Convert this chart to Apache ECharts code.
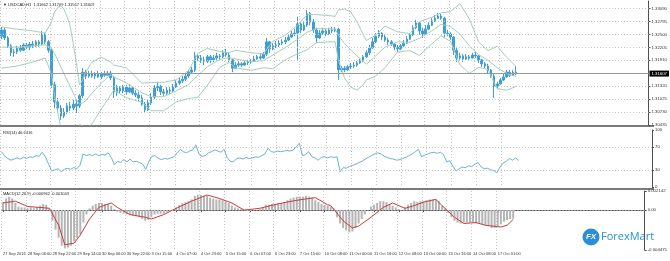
<!DOCTYPE html>
<html><head><meta charset="utf-8">
<script src="https://cdn.jsdelivr.net/npm/echarts@6/dist/echarts.min.js"></script>
<style>html,body{margin:0;padding:0;background:#fff}#c{width:670px;height:261px}</style>
</head><body><div id="c"></div>
<script>
// ---------- tick labels ----------
const xTickLabels = ["27 Sep 2016","28 Sep 06:00","28 Sep 22:00","29 Sep 14:00","30 Sep 06:00","30 Sep 22:00","3 Oct 15:00","4 Oct 07:00","4 Oct 23:00","5 Oct 15:00","6 Oct 07:00","6 Oct 23:00","7 Oct 15:00","10 Oct 08:00","11 Oct 00:00","11 Oct 16:00","12 Oct 08:00","13 Oct 00:00","13 Oct 16:00","14 Oct 08:00","17 Oct 01:00"];
const priceLabels = [1.30435,1.30730,1.31025,1.31320,1.31910,1.32205,1.32500,1.32795,1.33090];
const priceGrid = [1.30730,1.31025,1.31320,1.31615,1.31910,1.32205,1.32500,1.32795,1.33090];
const rsiLabels = [0,30,70,100];
const rsiGrid = [30,70];
const macdLabels = [-0.004475,0,0.002142];

// ---------- candles (2-hour slots) ----------
const open = [1.3246,1.3260,1.3242,1.3224,1.3208,1.3210,1.3219,1.3214,1.3226,1.3221,
1.3228,1.3224,1.3233,1.3228,1.3251,1.3233,1.3214,1.3135,1.3096,1.3082,
1.3064,1.3073,1.3087,1.3082,1.3091,1.3087,1.3110,1.3164,1.3155,1.3160,
1.3155,1.3160,1.3153,1.3160,1.3157,1.3162,1.3151,1.3119,1.3128,1.3121,
1.3130,1.3119,1.3128,1.3116,1.3112,1.3105,1.3091,1.3078,1.3094,1.3107,
1.3128,1.3132,1.3119,1.3116,1.3123,1.3121,1.3130,1.3139,1.3144,1.3148,
1.3155,1.3164,1.3169,1.3201,1.3196,1.3192,1.3189,1.3199,1.3192,1.3196,
1.3201,1.3199,1.3208,1.3203,1.3192,1.3173,1.3180,1.3183,1.3180,1.3185,
1.3187,1.3189,1.3194,1.3199,1.3196,1.3205,1.3233,1.3217,1.3224,1.3226,
1.3230,1.3233,1.3237,1.3244,1.3251,1.3253,1.3274,1.3260,1.3271,1.3297,
1.3278,1.3260,1.3242,1.3253,1.3258,1.3251,1.3260,1.3258,1.3262,1.3169,
1.3173,1.3169,1.3176,1.3178,1.3180,1.3185,1.3189,1.3199,1.3208,1.3219,
1.3233,1.3246,1.3253,1.3244,1.3237,1.3233,1.3228,1.3221,1.3217,1.3224,
1.3230,1.3239,1.3249,1.3265,1.3276,1.3258,1.3251,1.3262,1.3271,1.3281,
1.3287,1.3292,1.3287,1.3253,1.3251,1.3244,1.3214,1.3196,1.3201,1.3194,
1.3199,1.3196,1.3203,1.3201,1.3192,1.3183,1.3178,1.3169,1.3155,1.3132,
1.3137,1.3146,1.3153,1.3164,1.3157,1.3164];
const close = [1.3260,1.3242,1.3224,1.3208,1.3210,1.3219,1.3214,1.3226,1.3221,1.3228,
1.3224,1.3233,1.3228,1.3251,1.3233,1.3214,1.3135,1.3096,1.3082,1.3064,
1.3073,1.3087,1.3082,1.3091,1.3087,1.3110,1.3164,1.3155,1.3160,1.3155,
1.3160,1.3153,1.3160,1.3157,1.3162,1.3151,1.3119,1.3128,1.3121,1.3130,
1.3119,1.3128,1.3116,1.3112,1.3105,1.3091,1.3078,1.3094,1.3107,1.3128,
1.3132,1.3119,1.3116,1.3123,1.3121,1.3130,1.3139,1.3144,1.3148,1.3155,
1.3164,1.3169,1.3201,1.3196,1.3192,1.3189,1.3199,1.3192,1.3196,1.3201,
1.3199,1.3208,1.3203,1.3192,1.3173,1.3180,1.3183,1.3180,1.3185,1.3187,
1.3189,1.3194,1.3199,1.3196,1.3205,1.3233,1.3217,1.3224,1.3226,1.3230,
1.3233,1.3237,1.3244,1.3251,1.3253,1.3274,1.3260,1.3271,1.3297,1.3278,
1.3260,1.3242,1.3253,1.3258,1.3251,1.3260,1.3258,1.3262,1.3169,1.3173,
1.3169,1.3176,1.3178,1.3180,1.3185,1.3189,1.3199,1.3208,1.3219,1.3233,
1.3246,1.3253,1.3244,1.3237,1.3233,1.3228,1.3221,1.3217,1.3224,1.3230,
1.3239,1.3249,1.3265,1.3276,1.3258,1.3251,1.3262,1.3271,1.3281,1.3287,
1.3292,1.3287,1.3253,1.3251,1.3244,1.3214,1.3196,1.3201,1.3194,1.3199,
1.3196,1.3203,1.3201,1.3192,1.3183,1.3178,1.3169,1.3155,1.3132,1.3137,
1.3146,1.3153,1.3164,1.3157,1.3164,1.31607];
const low = [1.3239,1.3237,1.3219,1.3201,1.3199,1.3205,1.3210,1.3212,1.3217,1.3214,
1.3219,1.3221,1.3221,1.3226,1.3228,1.3208,1.3128,1.3082,1.3073,1.3055,
1.3059,1.3069,1.3075,1.3078,1.3071,1.3082,1.3105,1.3148,1.3151,1.3151,
1.3148,1.3151,1.3148,1.3153,1.3155,1.3146,1.3105,1.3110,1.3116,1.3116,
1.3112,1.3116,1.3112,1.3107,1.3098,1.3087,1.3071,1.3075,1.3089,1.3103,
1.3121,1.3112,1.3110,1.3112,1.3114,1.3119,1.3128,1.3135,1.3139,1.3144,
1.3151,1.3160,1.3164,1.3189,1.3185,1.3180,1.3185,1.3185,1.3187,1.3192,
1.3192,1.3196,1.3199,1.3187,1.3164,1.3171,1.3176,1.3176,1.3178,1.3180,
1.3183,1.3187,1.3192,1.3192,1.3194,1.3201,1.3208,1.3214,1.3219,1.3221,
1.3226,1.3228,1.3235,1.3242,1.3246,1.3192,1.3253,1.3258,1.3267,1.3271,
1.3253,1.3230,1.3239,1.3249,1.3246,1.3249,1.3253,1.3255,1.3146,1.3164,
1.3164,1.3167,1.3171,1.3173,1.3176,1.3183,1.3187,1.3196,1.3203,1.3217,
1.3230,1.3242,1.3237,1.3233,1.3226,1.3224,1.3214,1.3210,1.3214,1.3221,
1.3228,1.3237,1.3246,1.3262,1.3249,1.3242,1.3249,1.3260,1.3269,1.3278,
1.3285,1.3283,1.3242,1.3246,1.3237,1.3203,1.3187,1.3192,1.3187,1.3192,
1.3192,1.3196,1.3196,1.3185,1.3176,1.3173,1.3162,1.3151,1.3105,1.3126,
1.3135,1.3144,1.3151,1.3153,1.3155,1.3157];
const high = [1.3267,1.3265,1.3246,1.3228,1.3217,1.3224,1.3226,1.3230,1.3230,1.3233,
1.3235,1.3237,1.3237,1.3258,1.3253,1.3237,1.3219,1.3142,1.3105,1.3089,
1.3082,1.3094,1.3096,1.3101,1.3101,1.3114,1.3173,1.3169,1.3167,1.3167,
1.3164,1.3167,1.3164,1.3167,1.3167,1.3167,1.3155,1.3135,1.3132,1.3135,
1.3135,1.3137,1.3132,1.3123,1.3119,1.3112,1.3096,1.3101,1.3116,1.3135,
1.3142,1.3135,1.3126,1.3130,1.3130,1.3137,1.3146,1.3151,1.3155,1.3162,
1.3169,1.3176,1.3210,1.3205,1.3203,1.3199,1.3203,1.3203,1.3203,1.3208,
1.3205,1.3214,1.3217,1.3210,1.3194,1.3187,1.3189,1.3187,1.3189,1.3192,
1.3194,1.3201,1.3203,1.3205,1.3210,1.3242,1.3235,1.3230,1.3235,1.3237,
1.3239,1.3244,1.3251,1.3258,1.3262,1.3290,1.3278,1.3278,1.3306,1.3301,
1.3285,1.3265,1.3260,1.3265,1.3262,1.3265,1.3267,1.3267,1.3265,1.3178,
1.3178,1.3180,1.3185,1.3187,1.3189,1.3194,1.3203,1.3214,1.3226,1.3242,
1.3253,1.3260,1.3255,1.3249,1.3242,1.3237,1.3230,1.3226,1.3228,1.3237,
1.3246,1.3253,1.3271,1.3283,1.3278,1.3265,1.3271,1.3278,1.3287,1.3294,
1.3299,1.3297,1.3290,1.3260,1.3255,1.3246,1.3219,1.3208,1.3205,1.3205,
1.3203,1.3208,1.3210,1.3203,1.3194,1.3187,1.3183,1.3171,1.3160,1.3142,
1.3151,1.3160,1.3169,1.3169,1.3169,1.3178];
const lastBid = 1.31607;

// ---------- Bollinger bands, [slot, value] ----------
const bbUpper = [[0,1.3267],[5,1.3262],[10,1.3258],[14,1.3253],[16,1.3278],[17,1.3301],[18,1.3311],[19,1.3315],[20,1.3308],[21,1.3291],[22,1.3269],[23,1.3229],[24,1.3185],[25,1.3135],[26,1.3146],[27,1.3164],[29,1.3187],[32,1.3198],[35,1.3187],[36,1.3180],[40,1.3174],[45,1.3139],[48,1.3140],[52,1.3141],[56,1.3146],[60,1.3168],[63,1.3207],[66,1.3218],[70,1.3211],[73,1.3208],[75,1.3214],[80,1.3208],[84,1.3206],[87,1.3234],[91,1.3248],[95,1.3271],[98,1.3295],[101,1.3295],[105,1.3293],[107,1.3291],[108,1.3305],[110,1.3308],[112,1.3301],[114,1.3279],[116,1.3250],[117,1.3236],[120,1.3248],[123,1.3269],[127,1.3256],[131,1.3252],[134,1.3279],[138,1.3289],[141,1.3299],[144,1.3302],[147,1.3320],[150,1.3286],[153,1.3233],[156,1.3213],[159,1.3223],[162,1.3198],[165,1.3177]];
const bbMiddle = [[0,1.3221],[5,1.3221],[10,1.3224],[14,1.3226],[16,1.3219],[17,1.3206],[18,1.3192],[19,1.3176],[20,1.3161],[21,1.3146],[22,1.3132],[23,1.3116],[24,1.3101],[25,1.3091],[26,1.3094],[27,1.3099],[29,1.3116],[32,1.3139],[35,1.3158],[36,1.3153],[40,1.3140],[45,1.3117],[48,1.3108],[52,1.3108],[56,1.3121],[60,1.3136],[63,1.3157],[66,1.3176],[70,1.3193],[73,1.3197],[75,1.3194],[80,1.3188],[84,1.3190],[87,1.3203],[91,1.3220],[95,1.3239],[98,1.3255],[101,1.3263],[105,1.3263],[107,1.3262],[108,1.3249],[110,1.3229],[112,1.3215],[114,1.3201],[116,1.3188],[117,1.3182],[120,1.3201],[123,1.3221],[127,1.3233],[131,1.3232],[134,1.3241],[138,1.3258],[141,1.3273],[144,1.3268],[147,1.3251],[150,1.3224],[153,1.3204],[156,1.3191],[159,1.3174],[162,1.3161],[165,1.3154]];
const bbLower = [[0,1.3173],[5,1.3178],[10,1.3187],[14,1.3196],[16,1.3160],[17,1.3112],[18,1.3073],[19,1.3037],[20,1.3014],[21,1.3002],[22,1.2994],[23,1.3002],[24,1.3018],[25,1.3045],[26,1.3041],[27,1.3034],[29,1.3046],[32,1.3080],[35,1.3112],[36,1.3123],[40,1.3106],[45,1.3095],[48,1.3076],[52,1.3076],[56,1.3096],[60,1.3104],[63,1.3107],[66,1.3134],[70,1.3175],[73,1.3186],[75,1.3174],[80,1.3168],[84,1.3174],[87,1.3172],[91,1.3192],[95,1.3206],[98,1.3215],[101,1.3231],[105,1.3233],[107,1.3233],[108,1.3193],[110,1.3151],[112,1.3130],[114,1.3123],[116,1.3135],[117,1.3146],[120,1.3155],[123,1.3174],[127,1.3210],[131,1.3213],[134,1.3202],[138,1.3228],[141,1.3247],[144,1.3234],[147,1.3181],[150,1.3161],[153,1.3175],[156,1.3170],[159,1.3126],[162,1.3123],[165,1.3131]];

// ---------- RSI(14) ----------
const rsi = [62,54,50,47,49,51,49,52,50,53,52,55,54,61,53,40,28,30,32,27,
31,33,31,34,32,38,58,55,57,55,58,55,57,56,60,52,39,45,43,48,
44,49,44,45,43,40,31,45,54,55,50,48,50,49,51,53,60,66,62,60,
63,65,74,57,54,55,60,62,65,63,61,66,51,45,44,50,51,49,52,50,
51,53,52,55,58,68,62,61,63,62,63,64,63,65,70,77,55,57,62,53,
51,47,52,53,51,53,52,53,27,34,33,36,38,40,43,45,49,52,55,58,
60,58,54,52,50,49,47,48,50,52,55,58,62,66,53,56,58,60,61,59,
61,57,44,46,36,28,32,35,34,37,36,40,43,35,32,33,30,29,25,35,
42,45,50,47,51,46.64];

// ---------- MACD(12,26,9) ----------
const macdMain = [0.0009,0.0013,0.0015,0.0013,0.0008,0.0004,0.0003,0.0003,0.0002,0.0003,
0.0002,0.0003,0.0005,0.0007,0.0006,0.0001,-0.0012,-0.0022,-0.0031,-0.0040,
-0.0043,-0.0042,-0.0040,-0.0035,-0.0031,-0.0027,-0.0014,-0.0005,0.0002,0.0005,
0.0007,0.0008,0.0008,0.0007,0.0007,0.0005,0.0001,-0.0002,-0.0003,-0.0004,
-0.0005,-0.0005,-0.0006,-0.0007,-0.0008,-0.0010,-0.0012,-0.0011,-0.0008,-0.0005,
-0.0004,-0.0004,-0.0004,-0.0002,-0.0001,0.0000,0.0003,0.0006,0.0008,0.0009,
0.0010,0.0012,0.0016,0.0017,0.0017,0.0016,0.0016,0.0014,0.0013,0.0012,
0.0012,0.0011,0.0010,0.0008,0.0005,0.0003,0.0002,0.0001,0.0000,-0.0001,
-0.0001,0.0000,0.0000,0.0001,0.0003,0.0006,0.0006,0.0007,0.0007,0.0008,
0.0008,0.0009,0.0011,0.0013,0.0014,0.0015,0.0015,0.0015,0.0016,0.0015,
0.0014,0.0011,0.0009,0.0007,0.0006,0.0005,0.0004,0.0002,-0.0008,-0.0015,
-0.0020,-0.0023,-0.0025,-0.0024,-0.0020,-0.0015,-0.0010,-0.0005,0.0000,0.0004,
0.0006,0.0008,0.0010,0.0010,0.0009,0.0007,0.0005,0.0003,0.0001,0.0000,
0.0003,0.0006,0.0008,0.0010,0.0009,0.0010,0.0010,0.0011,0.0012,0.0012,
0.0012,0.0010,0.0005,0.0002,-0.0003,-0.0008,-0.0012,-0.0014,-0.0015,-0.0014,
-0.0014,-0.0014,-0.0014,-0.0015,-0.0015,-0.0016,-0.0017,-0.0018,-0.0020,-0.0020,
-0.0018,-0.0016,-0.0013,-0.0011,-0.0010,-0.000962];
const macdSignal = [[0,0.0008],[4,0.0010],[8,0.0004],[12,0.0003],[15,0.0002],[18,-0.0017],[20,-0.0039],[23,-0.0037],[25,-0.0028],[28,-0.0010],[31,0.0003],[35,0.0008],[37,0.0003],[41,-0.0005],[46,-0.0008],[48,-0.0010],[52,-0.0005],[56,0.0002],[61,0.0010],[66,0.0017],[70,0.0013],[74,0.0008],[78,0.0000],[83,0.0002],[89,0.0007],[95,0.0011],[101,0.0014],[105,0.0006],[106,0.0005],[110,-0.0012],[113,-0.0020],[115,-0.0018],[119,-0.0008],[123,0.0003],[126,0.0008],[130,0.0002],[133,0.0005],[136,0.0009],[140,0.0012],[142,0.0005],[146,-0.0008],[149,-0.0015],[153,-0.0014],[156,-0.0017],[161,-0.0019],[163,-0.0017],[165,-0.001043]];

// ---------- build ----------
const N_SLOTS = 208, SLOTS_PER_LABEL = 8;
const cats = Array.from({length: N_SLOTS}, (_, i) => String(i));
const candles = open.map((o, i) => [o, close[i], low[i], high[i]]);
const isLabelIdx = (i) => i % SLOTS_PER_LABEL === 0 && i / SLOTS_PER_LABEL < xTickLabels.length;

const gridLine = {color: '#c6c6c6', type: [1, 2], width: 1};
const FONT = 'Liberation Sans, Arial, sans-serif';

function xAxis(gi) {
  const bottom = gi === 2;
  return {
    type: 'category', gridIndex: gi, data: cats, boundaryGap: true,
    axisLine: {show: bottom, lineStyle: {color: '#505050', width: 1}},
    axisTick: {show: bottom, alignWithLabel: true, interval: (i) => isLabelIdx(i), length: 2, lineStyle: {color: '#505050'}},
    axisLabel: {show: bottom, interval: (i) => isLabelIdx(i), align: 'left', margin: 2,
      showMinLabel: true, showMaxLabel: true, hideOverlap: false,
      formatter: (v) => xTickLabels[Number(v) / SLOTS_PER_LABEL] || '',
      fontSize: 4, color: '#333', fontFamily: FONT},
    splitLine: {show: true, interval: (i) => isLabelIdx(i), lineStyle: gridLine}
  };
}
function yAxis(gi, min, max, labels, fmt) {
  return {
    type: 'value', gridIndex: gi, position: 'right', min, max,
    splitLine: {show: false},
    axisLine: {show: true, lineStyle: {color: '#505050'}},
    axisTick: {show: true, customValues: labels, length: 2, lineStyle: {color: '#505050'}},
    axisLabel: {customValues: labels, formatter: fmt, fontSize: 4.3, color: '#333', margin: 3, fontFamily: FONT}
  };
}
const hLines = (vals) => ({
  symbol: 'none', silent: true, animation: false, precision: 6,
  label: {show: false}, lineStyle: gridLine,
  data: vals.map(v => ({yAxis: v}))
});

const chart = echarts.init(document.getElementById('c'), null, {renderer: 'canvas'});
const priceMarks = hLines(priceGrid);
priceMarks.data.push({
  yAxis: lastBid,
  lineStyle: {color: '#9a9a9a', type: 'solid', width: 1},
  label: {show: true, position: 'end', formatter: lastBid.toFixed(5), backgroundColor: '#000', color: '#fff',
    fontSize: 4.3, padding: [1, 2], distance: 1, fontFamily: FONT}
});
chart.setOption({
  animation: false,
  backgroundColor: '#ffffff',
  grid: [
    {left: 0, top: 1, width: 652, height: 124},
    {left: 0, top: 130, width: 652, height: 57},
    {left: 0, top: 191, width: 652, height: 59}
  ],
  xAxis: [xAxis(0), xAxis(1), xAxis(2)],
  yAxis: [
    yAxis(0, 1.30435, 1.33261, priceLabels, v => v.toFixed(5)),
    yAxis(1, 0, 100, rsiLabels, v => String(Math.round(v))),
    yAxis(2, -0.004475, 0.002142, macdLabels, v => v === 0 ? '0.00' : v.toFixed(6))
  ],
  series: [
    {type: 'line', xAxisIndex: 0, yAxisIndex: 0, data: [], symbol: 'none', markLine: priceMarks},
    {type: 'candlestick', xAxisIndex: 0, yAxisIndex: 0, data: candles, barWidth: 2,
      itemStyle: {color: '#3f9fd4', color0: '#3f9fd4', borderColor: '#3f9fd4', borderColor0: '#3f9fd4', borderWidth: 1}},
    {type: 'line', xAxisIndex: 0, yAxisIndex: 0, data: bbUpper, symbol: 'none', lineStyle: {color: '#a7cdb8', width: 1}},
    {type: 'line', xAxisIndex: 0, yAxisIndex: 0, data: bbMiddle, symbol: 'none', lineStyle: {color: '#a7cdb8', width: 1}},
    {type: 'line', xAxisIndex: 0, yAxisIndex: 0, data: bbLower, symbol: 'none', lineStyle: {color: '#a7cdb8', width: 1}},
    {type: 'line', xAxisIndex: 1, yAxisIndex: 1, data: rsi, symbol: 'none', lineStyle: {color: '#6cb1d8', width: 1},
      markLine: hLines(rsiGrid)},
    {type: 'bar', xAxisIndex: 2, yAxisIndex: 2, data: macdMain, barWidth: 2, itemStyle: {color: '#b4b4b4'},
      markLine: hLines([0])},
    {type: 'line', xAxisIndex: 2, yAxisIndex: 2, data: macdSignal, symbol: 'none', lineStyle: {color: '#c83c3c', width: 1}}
  ],
  graphic: [
    {type: 'rect', shape: {x: 0, y: 125, width: 654, height: 2}, style: {fill: '#7a7a7a'}, silent: true},
    {type: 'rect', shape: {x: 0, y: 188, width: 654, height: 2}, style: {fill: '#7a7a7a'}, silent: true},
    {type: 'text', x: 3, y: 3, style: {text: '▼ USDCAD,H1  1.31662 1.31709 1.31567 1.31607', fontSize: 4, fill: '#222', fontFamily: FONT}},
    {type: 'text', x: 3, y: 131, style: {text: 'RSI(14) 46.6416', fontSize: 4, fill: '#222', fontFamily: FONT}},
    {type: 'text', x: 3, y: 192, style: {text: 'MACD(12,26,9) -0.000962 -0.001043', fontSize: 4, fill: '#222', fontFamily: FONT}},
    {type: 'circle', shape: {cx: 591, cy: 237, r: 8.5}, style: {fill: '#2a8fd6'}},
    {type: 'text', x: 591, y: 237, style: {text: 'FX', fontSize: 8, fontWeight: 'bold', fontStyle: 'italic', fill: '#fff', align: 'center', verticalAlign: 'middle', fontFamily: FONT}},
    {type: 'text', x: 601, y: 237, style: {text: 'ForexMart', fontSize: 11, fill: '#2a8fd6', verticalAlign: 'middle', fontFamily: 'Open Sans, Liberation Sans, sans-serif'}}
  ]
});
</script></body></html>
